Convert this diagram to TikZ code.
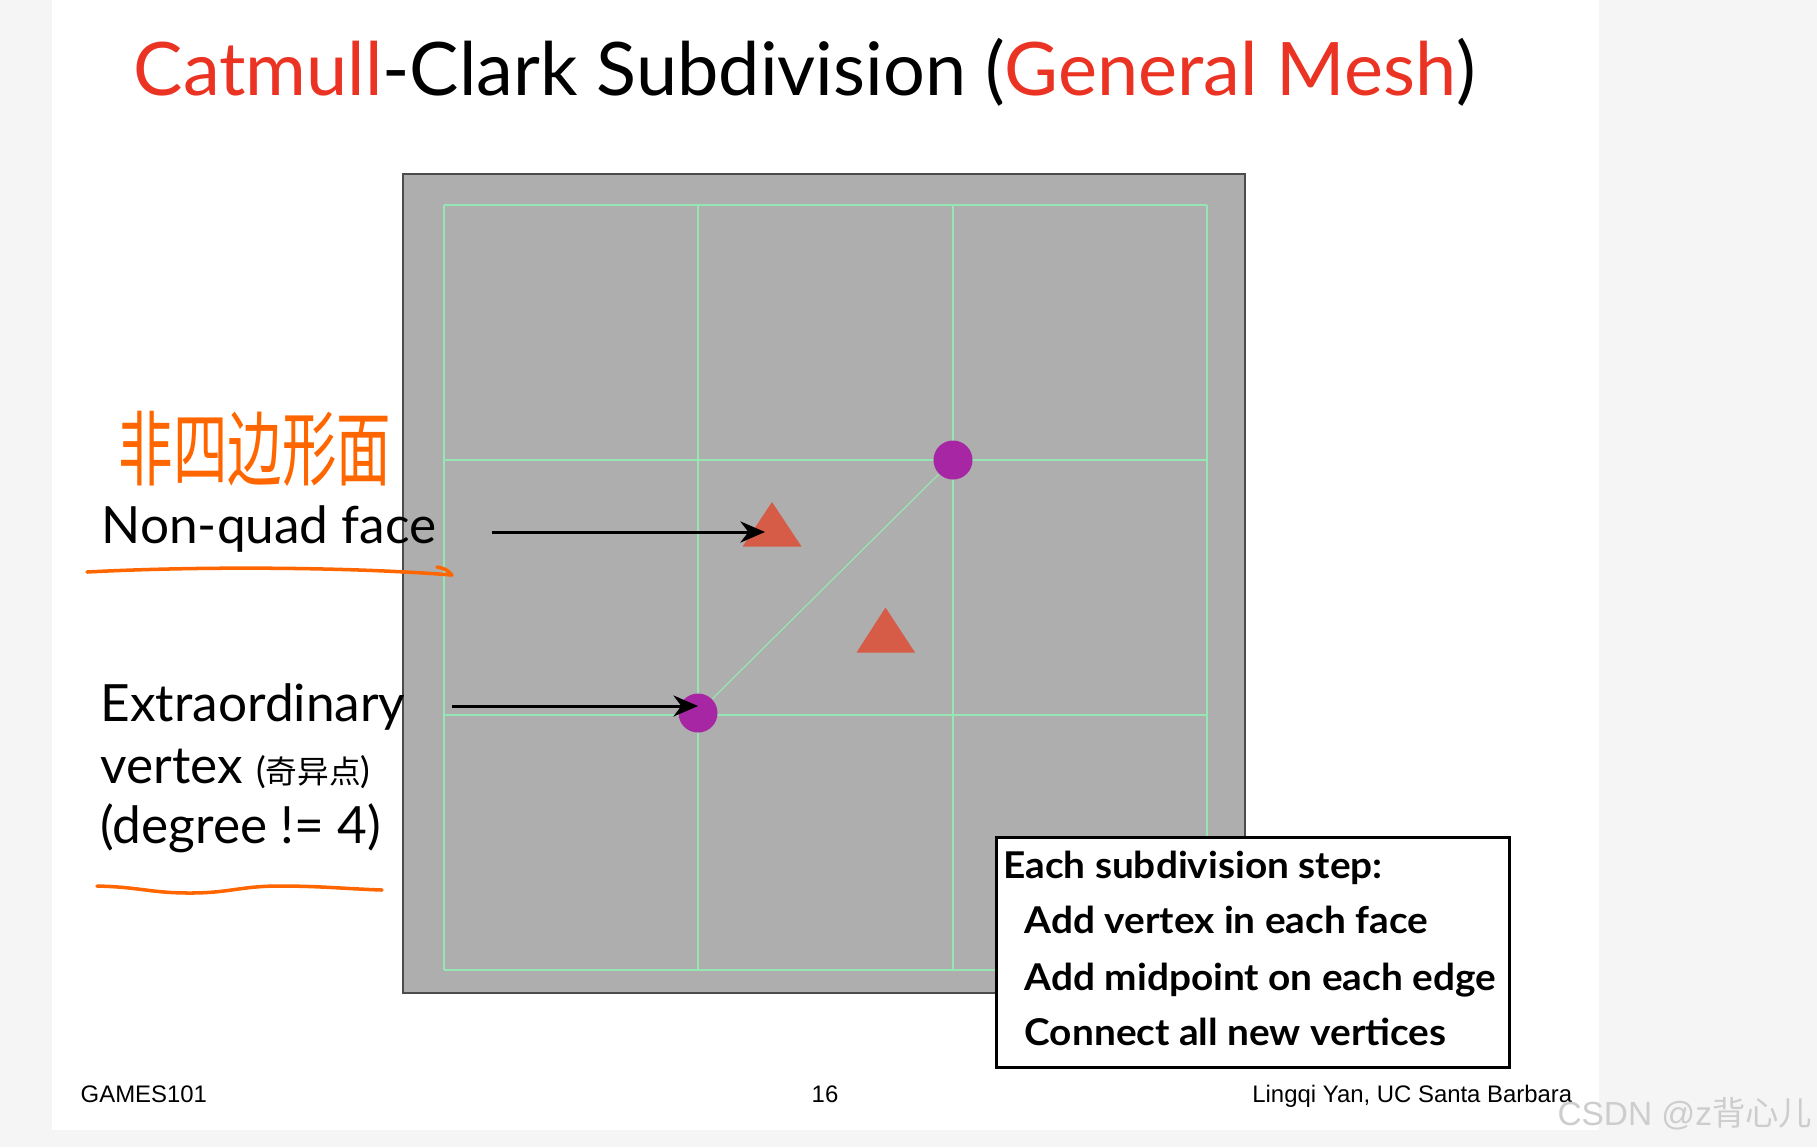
\documentclass[tikz,border=0pt]{standalone}
\usepackage{fontspec}
\setmainfont{Lato}
\newfontfamily\cjk{Noto Sans CJK SC}
\newfontfamily\footfont{Liberation Sans}
\usetikzlibrary{arrows.meta}

\definecolor{slidered}{RGB}{235,51,36}
\definecolor{pagegray}{RGB}{245,245,245}
\definecolor{meshgray}{RGB}{174,174,174}
\definecolor{meshgreen}{RGB}{150,230,180}
\definecolor{vpurple}{RGB}{166,38,164}
\definecolor{facered}{RGB}{214,92,72}
\definecolor{inkorange}{RGB}{255,102,0}
\definecolor{markgray}{RGB}{205,205,205}

\begin{document}
\begin{tikzpicture}[x=0.01cm, y=-0.01cm,
    gridline/.style={draw=meshgreen, line width=0.5pt},
    vdot/.style={circle, fill=vpurple, inner sep=0pt, minimum size=0.39cm},
    ink/.style={draw=inkorange, line width=1pt, line cap=round},
    pointer/.style={-{Stealth[length=7pt, width=6pt]}, line width=0.85pt},
    sidetext/.style={anchor=base west, inner sep=0pt, font=\fontsize{14.6}{18}\selectfont},
    steptext/.style={anchor=base west, inner sep=0pt, font=\fontsize{10.5}{12}\selectfont\bfseries},
    foottext/.style={anchor=base west, inner sep=0pt, font=\footfont\fontsize{6.8}{8}\selectfont}]

% ================================================================
%  Pagina: fondo gris claro y diapositiva blanca (px de 1817 x 1147)
% ================================================================
\useasboundingbox (0,0) rectangle (1817,1147);
\fill[pagegray] (0,0) rectangle (1817,1147);
\fill[white]    (52,0) rectangle (1599,1130);

% Titulo
\node[anchor=base west, inner sep=0pt, font=\fontsize{21}{26}\selectfont] (title) at (133,95)
    {\textcolor{slidered}{Catmull}-Clark Subdivision (\textcolor{slidered}{General Mesh})};

% ================================================================
%  Malla 3 x 3 con una cara partida en dos triangulos
% ================================================================
\fill[meshgray] (403,174) rectangle (1245,993);
\draw[gray!60!black, line width=0.45pt] (403,174) rectangle (1245,993);
\foreach \gx in {444, 698, 953, 1207}{
    \draw[gridline] (\gx,205) -- (\gx,970);
}
\foreach \gy in {205, 460, 715, 970}{
    \draw[gridline] (444,\gy) -- (1207,\gy);
}

% Vertices extraordinarios y la arista diagonal
\node[vdot] (evtop) at (953,460) {};
\node[vdot] (evlow) at (698,713) {};
\draw[draw=meshgreen, line width=0.35pt] (evtop) -- (evlow);

% Puntos de cara (triangulos)
\fill[facered] (772,502) -- (801.5,546.5) -- (742.5,546.5) -- cycle;
\fill[facered] (885.5,607.5) -- (915,652.5) -- (856.5,652.5) -- cycle;

% ================================================================
%  Etiquetas laterales y flechas
% ================================================================
\node[anchor=center, inner sep=0pt, text=inkorange] (nqnote) at (255,449)
    {\scalebox{1}[1.5]{\cjk\fontsize{15.5}{16}\selectfont 非四边形面}};
\node[sidetext] (nqtext) at (101,543.5) {Non-quad face};
\draw[ink] (87,572) .. controls (200,566) and (350,567) .. (452,575);
\draw[ink] (437,567) .. controls (446,569) .. (452,575);

\node[sidetext] (evline1) at (100,721.5) {Extraordinary};
\node[sidetext] (evline2) at (100,783)
    {vertex {\fontsize{10.3}{12}\selectfont(\cjk\fontsize{9}{10}\selectfont 奇异点\normalfont\fontsize{10.3}{12}\selectfont)}};
\node[sidetext] (evline3) at (100,843.5) {(degree != 4)};
\draw[ink] (97,886) .. controls (140,887) and (150,893) .. (190,893)
    .. controls (230,893) and (240,886) .. (280,886)
    .. controls (320,886) and (350,889) .. (382,890);

\coordinate (nqtail) at (492,532);
\coordinate (nqtip)  at (765,532);
\coordinate (evtail) at (452,706);
\coordinate (evtip)  at (698,706);
\draw[pointer] (nqtail) -- (nqtip);
\draw[pointer] (evtail) -- (evtip);

% ================================================================
%  Recuadro con los pasos
% ================================================================
\node[draw=black, fill=white, line width=0.9pt, anchor=north west,
      minimum width=5.13cm, minimum height=2.30cm, inner sep=0pt] (steps) at (995,836) {};
\node[steptext] (step0) at (1002.5,878) {\scalebox{1.05}[1]{Each subdivision step:}};
\node[steptext] (step1) at (1024,933)   {\scalebox{1.05}[1]{Add vertex in each face}};
\node[steptext] (step2) at (1024,990)   {\scalebox{1.05}[1]{Add midpoint on each edge}};
\node[steptext] (step3) at (1024,1045)  {\scalebox{1.05}[1]{Connect all new vertices}};

% Pie de pagina
\node[foottext] (course) at (80,1102)   {GAMES101};
\node[foottext, anchor=base] (pageno) at (825,1102) {16};
\node[foottext, anchor=base east] (author) at (1573,1102) {Lingqi Yan, UC Santa Barbara};
\node[anchor=base east, inner sep=0pt, text=markgray, font=\footfont\fontsize{9.5}{12}\selectfont] (mark)
    at (1813,1125) {CSDN @z{\cjk 背心儿}};

\end{tikzpicture}
\end{document}
